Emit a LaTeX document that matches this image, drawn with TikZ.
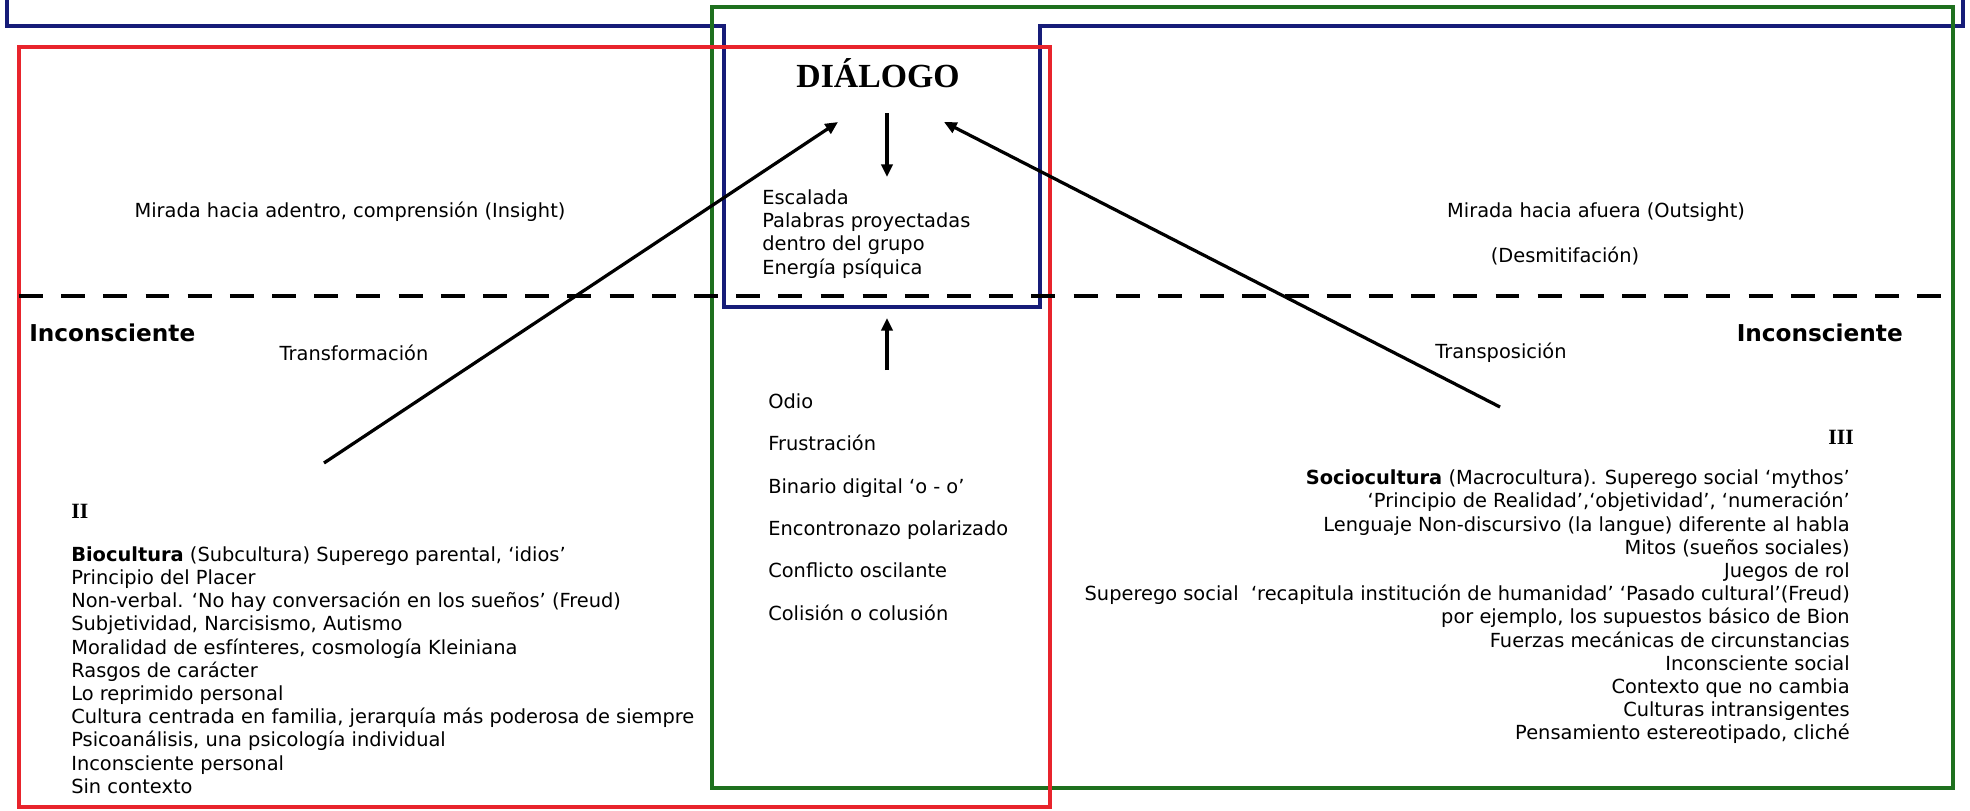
\documentclass[tikz,border=0pt]{standalone}
\usepackage{fontspec}
\setmainfont{DejaVu Sans}
\newfontfamily\serifhead{Liberation Serif}
\usepackage{xcolor}
\definecolor{frred}{RGB}{232,36,44}
\definecolor{frgreen}{RGB}{30,112,30}
\definecolor{frblue}{RGB}{22,28,120}
\usetikzlibrary{arrows.meta,positioning}
\tikzset{
  frame/.style={line width=2.6pt},
  txt/.style={inner sep=0pt, font=\fontsize{13.8}{16.5}\selectfont},
  widetxt/.style={inner sep=0pt, font=\fontsize{13.8}{30.1}\selectfont},
  headtxt/.style={inner sep=0pt, font=\fontsize{16.5}{20}\selectfont\bfseries},
  romantxt/.style={inner sep=0pt, font=\serifhead\fontsize{15.5}{18}\selectfont\bfseries},
  arr/.style={-{Triangle[length=9pt,width=8pt]}, line width=2.3pt, black}
}
\begin{document}
\begin{tikzpicture}[x=0.025cm, y=-0.025cm]
  \useasboundingbox (0,0) rectangle (1970,810);

  %% --- FRAMES ---
  \draw[frame, frblue]  (7,0) -- (7,26) -- (724,26) -- (724,307) -- (1040,307) -- (1040,26) -- (1963,26) -- (1963,0);
  \draw[frame, frgreen] (712,7) rectangle (1953,788);
  \draw[frame, frred]   (19,47) rectangle (1050,807);

  %% --- LIMIT ---
  \draw[black, line width=2.4pt, dash pattern=on 17pt off 13pt] (19,296) -- (1953,296);

  %% --- TOP ---
  \node[font=\serifhead\fontsize{24}{28}\selectfont\bfseries] (dialogo) at (878,73) {DIÁLOGO};
  \node[txt] (insight)  at (350,212)  {Mirada hacia adentro, comprensión (Insight)};
  \node[txt] (outsight) at (1596,212) {Mirada hacia afuera (Outsight)};
  \node[txt] (desmit)   at (1565,256) {(Desmitifación)};
  \node[txt, align=left, anchor=west] (escalada) at (762,234)
    {Escalada\\Palabras proyectadas\\dentro del grupo\\Energía psíquica};

  %% --- INCONSCIENTE ---
  \node[headtxt, anchor=west] (incL) at (29,333)   {Inconsciente};
  \node[headtxt, anchor=east] (incR) at (1903,333) {Inconsciente};
  \node[txt] (transf) at (354,353)  {Transformación};
  \node[txt] (transp) at (1501,353) {Transposición};

  %% --- II ---
  \node[romantxt, anchor=west] (bioNum) at (71,511) {II};
  \node[txt, align=left, anchor=west] (bio) at (71,670)
    {\textbf{Biocultura} (Subcultura) Superego parental, ‘idios’\\
     Principio del Placer\\
     Non-verbal. ‘No hay conversación en los sueños’ (Freud)\\
     Subjetividad, Narcisismo, Autismo\\
     Moralidad de esfínteres, cosmología Kleiniana\\
     Rasgos de carácter\\
     Lo reprimido personal\\
     Cultura centrada en familia, jerarquía más poderosa de siempre\\
     Psicoanálisis, una psicología individual\\
     Inconsciente personal\\
     Sin contexto};

  %% --- III ---
  \node[romantxt, anchor=east] (socioNum) at (1854,437) {III};
  \node[txt, align=right, anchor=east] (socio) at (1850,607)
    {\textbf{Sociocultura} (Macrocultura). Superego social ‘mythos’\\
     ‘Principio de Realidad’,‘objetividad’, ‘numeración’\\
     Lenguaje Non-discursivo (la langue) diferente al habla\\
     Mitos (sueños sociales)\\
     Juegos de rol\\
     Superego social\ \ ‘recapitula institución de humanidad’ ‘Pasado cultural’(Freud)\\
     por ejemplo, los supuestos básico de Bion\\
     Fuerzas mecánicas de circunstancias\\
     Inconsciente social\\
     Contexto que no cambia\\
     Culturas intransigentes\\
     Pensamiento estereotipado, cliché};

  %% --- CONFLICTO ---
  \node[widetxt, align=left, anchor=west] (conflicto) at (768,507)
    {Odio\\Frustración\\Binario digital ‘o - o’\\Encontronazo polarizado\\Conflicto oscilante\\Colisión o colusión};

  %% --- ARROWS ---
  \coordinate (bioTail)   at (324,463);
  \coordinate (bioTip)    at (838,122);
  \coordinate (socioTail) at (1500,407);
  \coordinate (socioTip)  at (944,122);
  \coordinate (downTip)   at (887,177);
  \coordinate (upTail)    at (887,370);
  \coordinate (upTip)     at (887,318);

  \draw[arr] (bioTail) -- (bioTip);
  \draw[arr] (socioTail) -- (socioTip);
  \draw[arr, shorten <=14.5pt] (dialogo.south -| downTip) -- (downTip);
  \draw[arr] (upTail) -- (upTip);
\end{tikzpicture}
\end{document}
